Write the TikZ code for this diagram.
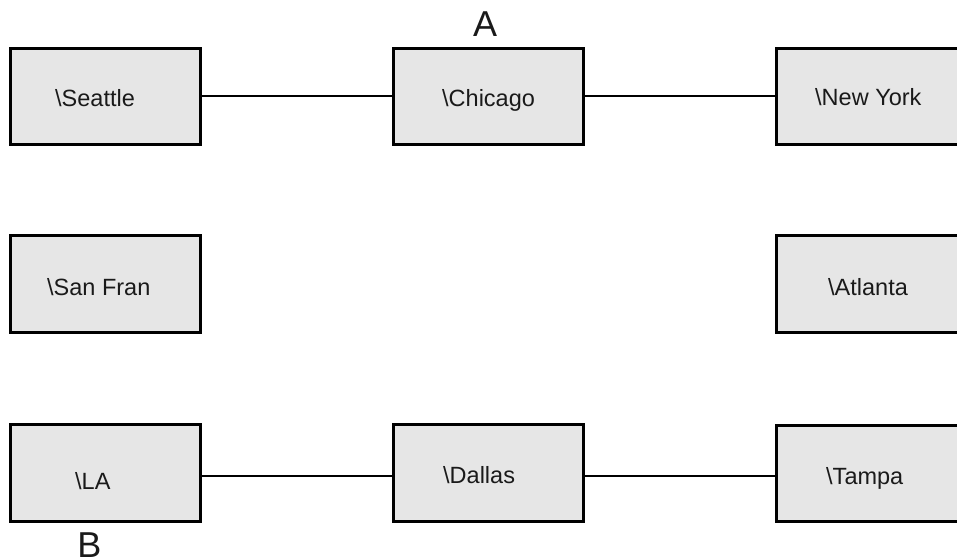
\documentclass[tikz,border=0pt]{standalone}
\usepackage{fontspec}
\setmainfont{Liberation Sans}
\definecolor{boxfill}{HTML}{E6E6E6}
\definecolor{ink}{HTML}{1A1A1A}
\begin{document}
\begin{tikzpicture}[x=1pt,y=-1pt,
  city/.style={draw=black, fill=boxfill, line width=3pt, rectangle,
    minimum width=190.5pt, minimum height=96.5pt, inner sep=0pt, outer sep=0pt},
  citytext/.style={anchor=base west, inner sep=0pt, text=ink,
    font=\fontsize{23.5pt}{28pt}\selectfont},
  bigtext/.style={anchor=base, inner sep=0pt, text=ink,
    font=\fontsize{36pt}{42pt}\selectfont},
  link/.style={draw=black, line width=2pt}]
\clip (0,0) rectangle (957,559);
\fill[white] (0,0) rectangle (957,559);
% boxes
\node[city] (sea) at (105.5,96.5) {};
\node[city] (chi) at (488.5,96.5) {};
\node[city] (ny)  at (871.5,96.5) {};
\node[city] (sf)  at (105.5,284) {};
\node[city] (atl) at (871.5,284) {};
\node[city] (la)  at (105.5,473) {};
\node[city] (dal) at (488.5,473) {};
\node[city] (tam) at (871.5,473.5) {};
% texts
\node[citytext] (tsea) at (55,106.5) {\textbackslash Seattle};
\node[citytext] (tchi) at (442,106.5) {\textbackslash Chicago};
\node[citytext] (tny)  at (815,106) {\textbackslash New York};
\node[citytext] (tsf)  at (47,295.5) {\textbackslash San Fran};
\node[citytext] (tatl) at (828,295) {\textbackslash Atlanta};
\node[citytext] (tla)  at (75,489) {\textbackslash LA};
\node[citytext] (tdal) at (443,483.5) {\textbackslash Dallas};
\node[citytext] (ttam) at (826,484) {\textbackslash Tampa};
% labels
\node[bigtext] (lA) at (485,37) {A};
\node[bigtext] (lB) at (89.5,557.5) {B};
% connectors
\draw[link] (sea.east) -- (chi.west);
\draw[link] (chi.east) -- (ny.west);
\draw[link] ([yshift=-3pt]la.east) -- ([yshift=-3pt]dal.west);
\draw[link] ([yshift=-3pt]dal.east) -- ([yshift=-2.5pt]tam.west);
\end{tikzpicture}
\end{document}
